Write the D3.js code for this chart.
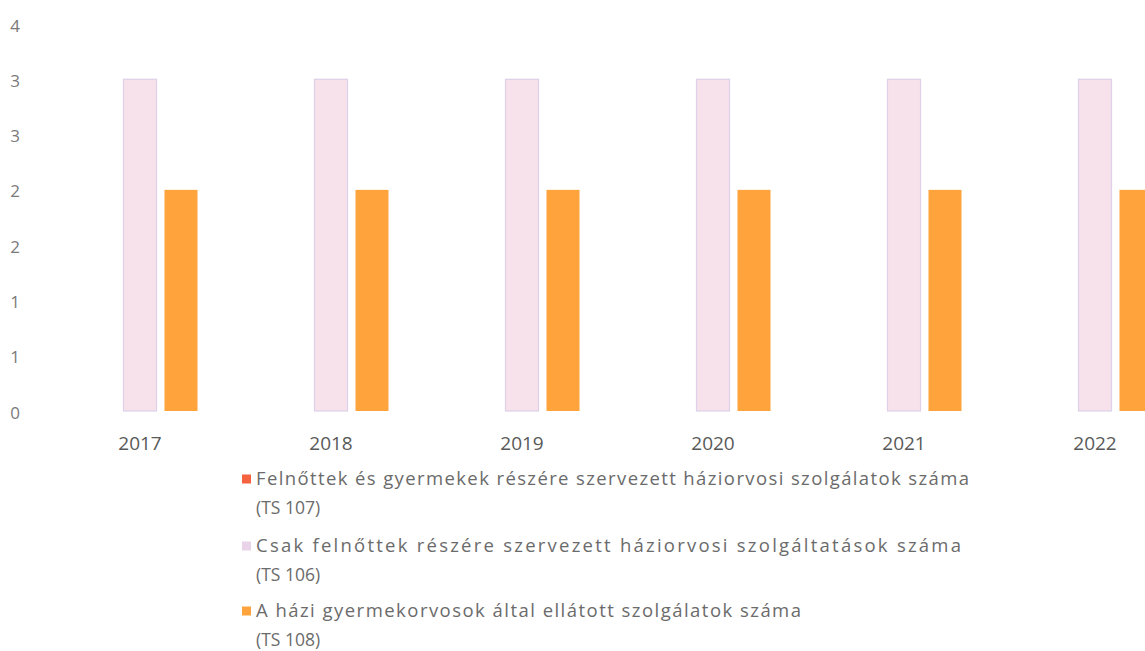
<!DOCTYPE html>
<html lang="hu">
<head>
<meta charset="UTF-8">
<script src="https://cdn.jsdelivr.net/npm/d3@7"></script>
<title>Háziorvosi szolgálatok</title>
<style>
  html, body { margin: 0; padding: 0; background: #ffffff; }
  svg { display: block; }
  text { font-family: "Open Sans", sans-serif; }
</style>
</head>
<body>
<div id="chart"></div>
<script>
// Data
var years = ["2017", "2018", "2019", "2020", "2021", "2022"];
var seriesNames = [
  "Felnőttek és gyermekek részére szervezett háziorvosi szolgálatok száma",
  "Csak felnőttek részére szervezett háziorvosi szolgáltatások száma",
  "A házi gyermekorvosok által ellátott szolgálatok száma"
];
var seriesCodes = ["(TS 107)", "(TS 106)", "(TS 108)"];
var ts107 = [0, 0, 0, 0, 0, 0];
var ts106 = [3, 3, 3, 3, 3, 3];
var ts108 = [2, 2, 2, 2, 2, 2];
var yTicks = [0, 0.5, 1, 1.5, 2, 2.5, 3, 3.5];

var seriesValues = [ts107, ts106, ts108];
var colors = ["#f4623f", "#f7e2ec", "#ffa33c"];
var strokes = ["none", "#ddd0e8", "none"];
var markerColors = ["#f4623f", "#e8d3e8", "#ffa33c"];

var width = 1145, height = 651;

var svg = d3.select("#chart").append("svg")
    .attr("width", width)
    .attr("height", height);

// Scales
var x0 = d3.scaleBand().domain(years).range([44.5, 44.5 + 191 * years.length]);
var x1 = d3.scaleBand().domain(d3.range(3)).range([38, 153]).paddingInner(0.195);
var y = d3.scaleLinear().domain([0, 3.5]).range([411, 24]);

// Y axis (labels only)
var yAxis = svg.append("g")
    .attr("transform", "translate(20,0)")
    .call(d3.axisLeft(y).tickValues(yTicks).tickSize(0).tickPadding(0)
      .tickFormat(function(d) { return String(Math.round(d)); }));
yAxis.select(".domain").remove();
yAxis.selectAll("text")
    .attr("font-family", "Open Sans, sans-serif")
    .attr("font-size", 17)
    .attr("fill", "#7a7a7a")
    .attr("dy", "0.42em");

// Bars
var groups = svg.append("g").selectAll("g")
  .data(years)
  .enter().append("g")
    .attr("transform", function(d) { return "translate(" + x0(d) + ",0)"; });

groups.selectAll("rect")
  .data(function(d, i) { return seriesValues.map(function(s, k) { return {k: k, v: s[i]}; }); })
  .enter().append("rect")
    .attr("x", function(d) { return x1(d.k); })
    .attr("y", function(d) { return y(d.v); })
    .attr("width", x1.bandwidth())
    .attr("height", function(d) { return y(0) - y(d.v); })
    .attr("fill", function(d) { return colors[d.k]; })
    .attr("stroke", function(d) { return strokes[d.k]; })
    .attr("stroke-width", 1.2);

// X axis (labels only)
var xAxis = svg.append("g")
    .attr("transform", "translate(0,436)")
    .call(d3.axisBottom(x0).tickSize(0).tickPadding(0));
xAxis.select(".domain").remove();
xAxis.selectAll("text")
    .attr("font-family", "Open Sans, sans-serif")
    .attr("font-size", 19)
    .attr("fill", "#595959")
    .attr("dy", "0.75em")
    .attr("transform", "translate(" + (-x0.bandwidth() / 2 + x1(1) + x1.bandwidth() / 2) + ",0)");

// Legend
var legendRows = [479, 546, 611];
var legend = svg.append("g").selectAll("g")
  .data(seriesNames)
  .enter().append("g")
    .attr("transform", function(d, i) { return "translate(242," + legendRows[i] + ")"; });

legend.append("rect")
    .attr("x", 0)
    .attr("y", -4.5)
    .attr("width", 9)
    .attr("height", 9)
    .attr("fill", function(d, i) { return markerColors[i]; });

var nameWidths = [713, 705, 545];
legend.append("text")
    .attr("x", 14)
    .attr("y", 6)
    .attr("font-size", 18.5)
    .attr("fill", "#6b6b6b")
    .attr("textLength", function(d, i) { return nameWidths[i]; })
    .attr("lengthAdjust", "spacing")
    .text(function(d) { return d; });

legend.append("text")
    .attr("x", 14)
    .attr("y", 35)
    .attr("font-size", 17.5)
    .attr("fill", "#6b6b6b")
    .text(function(d, i) { return seriesCodes[i]; });
</script>
</body>
</html>
